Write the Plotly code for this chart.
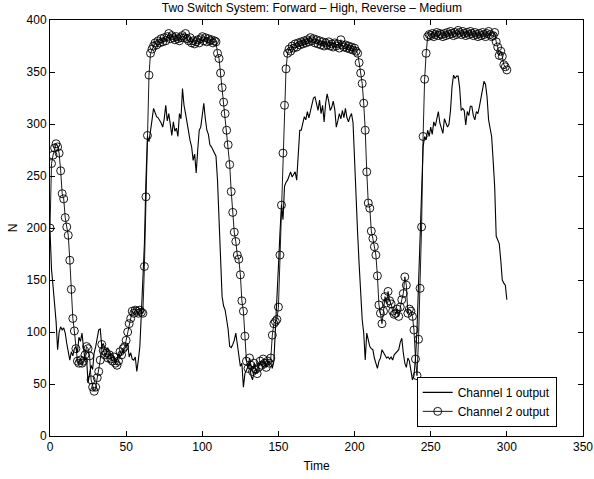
import plotly.graph_objects as go

time = list(range(0, 301))

channel1 = [
    198, 160, 144, 130, 110, 83, 100, 105, 102, 104,
    99, 89, 80, 73, 81, 77, 84, 86, 80, 95,
    91, 99, 85, 73, 75, 51, 60, 68, 64, 80,
    86, 95, 102, 103, 86, 89, 84, 82, 85, 80,
    79, 78, 76, 69, 74, 79, 76, 80, 82, 84,
    86, 89, 76, 80, 74, 73, 76, 62, 73, 86,
    118, 150, 185, 246, 288, 283, 292, 304, 315, 311,
    307, 306, 304, 301, 297, 305, 318, 303, 310, 300,
    289, 302, 293, 296, 288, 310, 305, 334, 318, 310,
    301, 289, 284, 278, 265, 271, 253, 275, 294, 297,
    307, 320, 305, 294, 290, 280, 278, 275, 272, 269,
    246, 208, 163, 134, 125, 121, 112, 102, 86, 85,
    88, 92, 99, 88, 73, 67, 70, 47, 60, 63,
    66, 70, 58, 54, 62, 60, 65, 67, 70, 68,
    66, 68, 67, 72, 70, 70, 65, 72, 99, 131,
    163, 195, 222, 208, 240, 244, 246, 250, 254, 249,
    252, 254, 246, 272, 294, 294, 301, 307, 304, 312,
    306, 313, 320, 325, 326, 318, 313, 323, 310, 318,
    302, 320, 329, 322, 313, 316, 322, 314, 297, 303,
    310, 305, 313, 306, 315, 306, 302, 307, 310, 301,
    260, 225, 195, 165, 135, 112, 99, 73, 99, 92,
    86, 84, 83, 75, 70, 65, 72, 75, 83, 80,
    77, 75, 76, 74, 76, 73, 78, 80, 82, 83,
    90, 94, 80, 70, 66, 75, 72, 63, 54, 58,
    75, 102, 147, 195, 240, 278, 288, 285, 294, 288,
    297, 290, 302, 298, 305, 312, 301, 295, 291, 305,
    300, 297, 300, 313, 336, 347, 344, 346, 346, 335,
    313, 315, 313, 299, 312, 308, 317, 317, 308, 304,
    312, 310, 317, 325, 336, 341, 338, 326, 304, 294,
    288, 265, 240, 192, 188, 185, 169, 150, 147, 145,
    131,
]

channel2 = [
    200, 262, 270, 277, 281, 278, 272, 255, 233, 228,
    210, 201, 193, 169, 141, 113, 101, 84, 72, 70,
    73, 70, 72, 78, 86, 84, 77, 54, 47, 43,
    47, 56, 62, 73, 88, 82, 78, 80, 75, 78,
    74, 72, 76, 70, 68, 72, 81, 78, 84, 86,
    92, 100, 108, 113, 120, 118, 121, 120, 118, 121,
    119, 118, 163, 230, 289, 347, 368, 372, 375, 378,
    376, 380, 378, 382, 379, 383, 380, 384, 387, 382,
    385, 383, 381, 384, 382, 380, 383, 385, 383, 387,
    382, 380, 383, 378, 380, 377, 379, 381, 378, 382,
    384, 380, 383, 379, 382, 380, 381, 378, 380, 379,
    368, 363, 349, 335, 321, 310, 294, 280, 261, 235,
    215, 196, 187, 174, 170, 155, 130, 120, 96, 72,
    65, 75, 68, 62, 70, 64, 60, 66, 72, 68,
    74, 70, 66, 72, 70, 75, 97, 108, 110, 112,
    124, 174, 222, 272, 318, 353, 368, 372, 370, 375,
    373, 377, 374, 378, 376, 379, 377, 380, 378, 381,
    379, 383, 380, 382, 378, 381, 377, 380, 376, 379,
    375, 378, 376, 379, 375, 377, 374, 378, 375, 377,
    373, 381, 376, 374, 376, 373, 375, 372, 374, 371,
    373, 370, 368, 359, 349, 339, 320, 294, 254, 224,
    219, 197, 190, 182, 174, 154, 126, 118, 108, 120,
    134, 128, 139, 130, 127, 120, 117, 118, 122, 115,
    124, 131, 137, 153, 145, 118, 122, 120, 115, 102,
    74, 58, 93, 142, 201, 288, 343, 368, 384, 386,
    385, 387, 384, 386, 388, 385, 387, 386, 384, 387,
    385, 388, 386, 389, 387, 385, 388, 386, 390, 388,
    386, 389, 387, 385, 388, 386, 389, 387, 385, 388,
    386, 384, 387, 385, 388, 386, 384, 387, 389, 386,
    384, 385, 388, 379, 374, 366, 370, 365, 357, 355,
    352,
]

x_ticks = [0, 50, 100, 150, 200, 250, 300, 350]
y_ticks = [0, 50, 100, 150, 200, 250, 300, 350, 400]

FONT = "Liberation Sans, Arial, Helvetica, sans-serif"

fig = go.Figure()
fig.add_trace(go.Scatter(
    x=time, y=channel1, mode="lines", name="Channel 1 output",
    line=dict(color="black", width=1.1),
))
fig.add_trace(go.Scatter(
    x=time, y=channel2, mode="lines+markers", name="Channel 2 output",
    line=dict(color="black", width=0.9),
    marker=dict(symbol="circle-open", size=8, color="black", line=dict(width=0.9)),
))

axis_common = dict(
    showgrid=False, zeroline=False, showline=True, linecolor="black", linewidth=1,
    mirror="ticks", ticks="inside", ticklen=5, tickcolor="black", tickwidth=1,
    tickfont=dict(family=FONT, size=12, color="black"), automargin=False,
)

fig.update_layout(
    width=594, height=479,
    margin=dict(l=50, r=11, t=20, b=43),
    paper_bgcolor="white", plot_bgcolor="white",
    title=dict(text="Two Switch System: Forward \u2013 High, Reverse \u2013 Medium",
               x=0.525, xanchor="center", y=0.993, yanchor="top",
               font=dict(family=FONT, size=12, color="black")),
    xaxis=dict(range=[0, 350], tickvals=x_ticks,
               title=dict(text="Time", font=dict(family=FONT, size=12, color="black"), standoff=8),
               **axis_common),
    yaxis=dict(range=[0, 400], tickvals=y_ticks,
               title=dict(text="N", font=dict(family=FONT, size=12, color="black"), standoff=6),
               **axis_common),
    legend=dict(x=0.688, xanchor="left", y=0.022, yanchor="bottom",
                bgcolor="white", bordercolor="black", borderwidth=1,
                font=dict(family=FONT, size=12, color="black"),
                tracegroupgap=0, itemwidth=30),
    showlegend=True,
)

fig.write_html("out.html")
